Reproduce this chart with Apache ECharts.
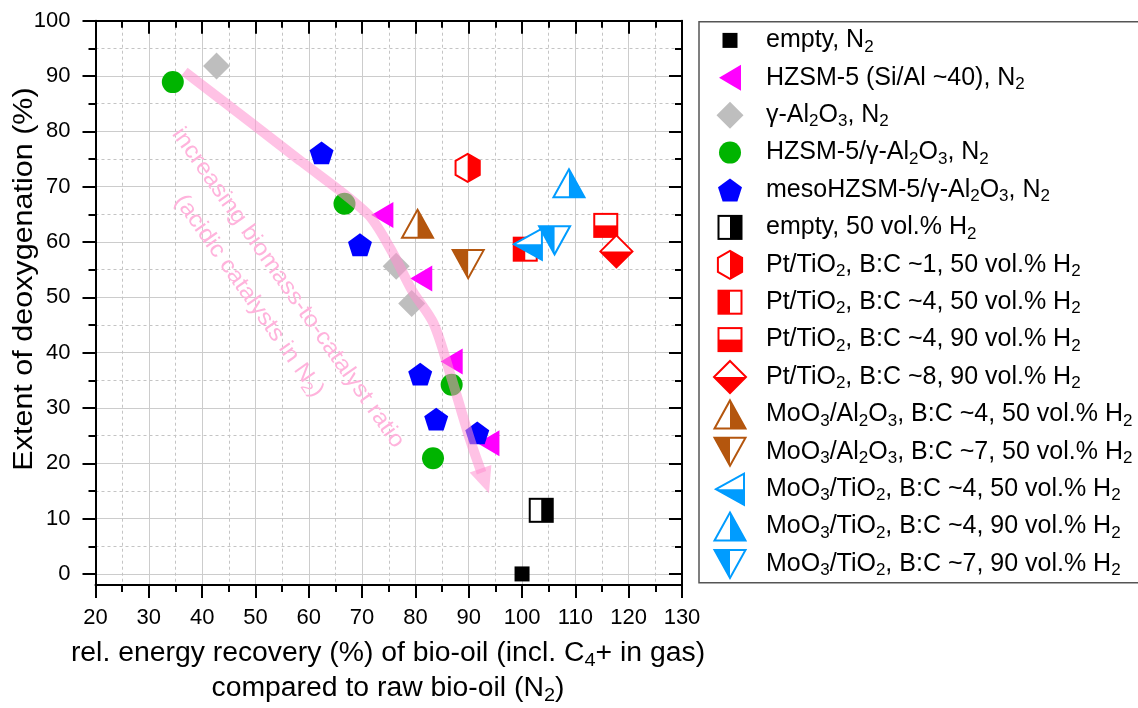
<!DOCTYPE html>
<html>
<head>
<meta charset="utf-8">
<script src="https://cdn.jsdelivr.net/npm/echarts@6/dist/echarts.min.js"></script>
<style>
  html, body { margin: 0; padding: 0; background: #fff; }
  #main { width: 1138px; height: 708px; }
</style>
</head>
<body>
<div id="main"></div>
<script>
// x = rel. energy recovery (%), y = extent of deoxygenation (%)
var emptyN2X = [100], emptyN2Y = [0];
var hzsmX = [73.8, 81.1, 86.8, 93.7], hzsmY = [64.9, 53.4, 38.4, 23.6];
var aluminaX = [42.7, 76.4, 79.3], aluminaY = [91.8, 55.6, 48.9];
var hzsmAlX = [34.5, 66.7, 86.8, 83.3], hzsmAlY = [88.9, 66.9, 34.2, 20.9];
var mesoX = [62.4, 69.6, 80.9, 83.9, 91.6], mesoY = [76.1, 59.5, 36.1, 28.0, 25.5];
var emptyH2X = [103.6], emptyH2Y = [11.5];
var pt1X = [89.8], pt1Y = [73.4];
var pt4aX = [100.6], pt4aY = [58.7];
var pt4bX = [115.7], pt4bY = [63.0];
var pt8X = [117.7], pt8Y = [58.3];
var moAl4X = [80.4], moAl4Y = [63.3];
var moAl7X = [89.9], moAl7Y = [56.0];
var moTi4aX = [101.1], moTi4aY = [59.6];
var moTi4bX = [108.8], moTi4bY = [70.6];
var moTi7X = [106.1], moTi7Y = [60.3];

// pink guide arrow
var trendX = [36.7, 58.4, 71.0, 75.3, 79.4, 83.4, 86.6, 90.3, 92.4];
var trendY = [90.8, 74.7, 65.1, 58.8, 51.2, 45.3, 35.9, 24.1, 18.3];
var arrowX = [93.0], arrowY = [16.8];

var yMajor = [0, 10, 20, 30, 40, 50, 60, 70, 80, 90, 100];
var yMinor = [5, 15, 25, 35, 45, 55, 65, 75, 85, 95];

var FONT = 'Liberation Sans, Arial, sans-serif';
var RED = '#ff0000', BROWN = '#b4560e', AZURE = '#009cff';
var PINK_TEXT = '#ffb3dc';

function icon(body) {
  var svg = '<svg xmlns="http://www.w3.org/2000/svg" width="36" height="36" viewBox="0 0 36 36">' + body + '</svg>';
  return 'image://data:image/svg+xml;charset=utf-8,' + encodeURIComponent(svg);
}
function poly(pts, fill, stroke) {
  return '<polygon points="' + pts + '" fill="' + fill + '"' +
    (stroke ? ' stroke="' + stroke + '" stroke-width="2"' : '') + '/>';
}
var SQ = '<rect x="6.5" y="6.5" width="23" height="23" fill="#fff" stroke="COL" stroke-width="2"/>';
var UP = '18,4 33.5,32 2.5,32', UPR = '18,4 33.5,32 18,32';
var DN = '2.5,4 33.5,4 18,32', DNL = '2.5,4 18,4 18,32';

var symbols = {
  emptyN2: icon('<rect x="10.5" y="10.5" width="15" height="15" fill="#000"/>'),
  hzsm: icon(poly('7,18 29,5 29,31', '#ff00ff')),
  alumina: icon(poly('18,4.5 31.5,18 18,31.5 4.5,18', '#bebebe')),
  hzsmAl: icon('<circle cx="18" cy="18" r="11" fill="#00b400"/>'),
  meso: icon(poly('18,6.6 29.98,15.31 25.41,29.39 10.59,29.39 6.02,15.31', '#0000ff')),
  emptyH2: icon(SQ.replace('COL', '#000') + '<rect x="18" y="6.5" width="11.5" height="23" fill="#000"/>'),
  pt1: icon(poly('18,4 30.1,11 30.1,25 18,32 5.9,25 5.9,11', '#fff', RED) + poly('18,4 30.1,11 30.1,25 18,32', RED)),
  pt4a: icon(SQ.replace('COL', RED) + '<rect x="6.5" y="6.5" width="11.5" height="23" fill="' + RED + '"/>'),
  pt4b: icon(SQ.replace('COL', RED) + '<rect x="6.5" y="18" width="23" height="11.5" fill="' + RED + '"/>'),
  pt8: icon(poly('18,2 34,18 18,34 2,18', '#fff', RED) + poly('2,18 34,18 18,34', RED)),
  moAl4: icon(poly(UP, '#fff', BROWN) + poly(UPR, BROWN)),
  moAl7: icon(poly(DN, '#fff', BROWN) + poly(DNL, BROWN)),
  moTi4a: icon(poly('4,18 32,2.5 32,33.5', '#fff', AZURE) + poly('4,18 32,18 32,33.5', AZURE)),
  moTi4b: icon(poly(UP, '#fff', AZURE) + poly(UPR, AZURE)),
  moTi7: icon(poly(DN, '#fff', AZURE) + poly(DNL, AZURE))
};

function pairs(xs, ys) {
  return xs.map(function (x, i) { return [x, ys[i]]; });
}
function scatter(name, xs, ys, sym) {
  return {
    type: 'scatter', name: name, symbol: sym, symbolSize: 36,
    itemStyle: { opacity: 1 },
    data: pairs(xs, ys), z: 3, silent: true
  };
}

var series = [
  scatter('empty, N_2', emptyN2X, emptyN2Y, symbols.emptyN2),
  scatter('HZSM-5 (Si/Al ~40), N_2', hzsmX, hzsmY, symbols.hzsm),
  scatter('γ-Al_2O_3, N_2', aluminaX, aluminaY, symbols.alumina),
  scatter('HZSM-5/γ-Al_2O_3, N_2', hzsmAlX, hzsmAlY, symbols.hzsmAl),
  scatter('mesoHZSM-5/γ-Al_2O_3, N_2', mesoX, mesoY, symbols.meso),
  scatter('empty, 50 vol.% H_2', emptyH2X, emptyH2Y, symbols.emptyH2),
  scatter('Pt/TiO_2, B:C ~1, 50 vol.% H_2', pt1X, pt1Y, symbols.pt1),
  scatter('Pt/TiO_2, B:C ~4, 50 vol.% H_2', pt4aX, pt4aY, symbols.pt4a),
  scatter('Pt/TiO_2, B:C ~4, 90 vol.% H_2', pt4bX, pt4bY, symbols.pt4b),
  scatter('Pt/TiO_2, B:C ~8, 90 vol.% H_2', pt8X, pt8Y, symbols.pt8),
  scatter('MoO_3/Al_2O_3, B:C ~4, 50 vol.% H_2', moAl4X, moAl4Y, symbols.moAl4),
  scatter('MoO_3/Al_2O_3, B:C ~7, 50 vol.% H_2', moAl7X, moAl7Y, symbols.moAl7),
  scatter('MoO_3/TiO_2, B:C ~4, 50 vol.% H_2', moTi4aX, moTi4aY, symbols.moTi4a),
  scatter('MoO_3/TiO_2, B:C ~4, 90 vol.% H_2', moTi4bX, moTi4bY, symbols.moTi4b),
  scatter('MoO_3/TiO_2, B:C ~7, 90 vol.% H_2', moTi7X, moTi7Y, symbols.moTi7)
];
var legendNames = series.map(function (s) { return s.name; });

series.push({
  type: 'line', name: 'trend', data: pairs(trendX, trendY), smooth: 0.3,
  symbol: 'none', z: 5, silent: true,
  lineStyle: { width: 10, color: '#ff8fcf', opacity: 0.55, cap: 'butt' }
});
series.push({
  type: 'scatter', name: 'trendHead', data: pairs(arrowX, arrowY), z: 5, silent: true,
  symbol: 'triangle', symbolSize: [23, 26], symbolRotate: 199,
  itemStyle: { color: '#ff8fcf', opacity: 0.55 }
});

var subStyle = function (size, col) {
  col = col || '#000';
  return { s: { fontSize: size, fontFamily: FONT, color: col, fill: col, verticalAlign: 'bottom', lineHeight: size - 2 } };
};

var gridLine = { show: true, lineStyle: { color: '#cccccc', width: 1 } };
var dashLine = { show: true, lineStyle: { color: '#c4c4c4', width: 1, type: [3, 3] } };
var blackLine = { show: true, onZero: false, lineStyle: { color: '#000', width: 2 } };

var chart = echarts.init(document.getElementById('main'), null, { renderer: 'canvas' });
chart.setOption({
  animation: false,
  backgroundColor: '#fff',
  textStyle: { fontFamily: FONT },
  grid: { left: 95.5, right: 456, top: 20.7, bottom: 123, outerBoundsMode: 'none' },
  xAxis: [{
    type: 'value', position: 'bottom', min: 20, max: 130, interval: 10,
    axisLine: blackLine,
    axisTick: { show: true, inside: false, length: 13, lineStyle: { color: '#000', width: 2 } },
    minorTick: { show: true, splitNumber: 2, length: 7, lineStyle: { color: '#000', width: 2 } },
    axisLabel: { fontSize: 22, color: '#000', margin: 22, fontFamily: FONT },
    splitLine: gridLine,
    minorSplitLine: dashLine
  }, {
    type: 'value', position: 'top', min: 20, max: 130, interval: 10,
    axisLine: blackLine,
    axisTick: { show: true, inside: true, length: 13, lineStyle: { color: '#000', width: 2 } },
    minorTick: { show: true, splitNumber: 2, length: 7, lineStyle: { color: '#000', width: 2 } },
    axisLabel: { show: false },
    splitLine: { show: false }
  }],
  yAxis: [{
    type: 'value', position: 'left', min: -2, max: 100,
    axisLine: blackLine,
    axisTick: { show: true, inside: false, length: 13, customValues: yMajor, lineStyle: { color: '#000', width: 2 } },
    axisLabel: { fontSize: 22, color: '#000', margin: 25, customValues: yMajor, fontFamily: FONT },
    splitLine: gridLine
  }, {
    type: 'value', position: 'left', min: -2, max: 100,
    axisLine: { show: false },
    axisTick: { show: true, inside: false, length: 7, customValues: yMinor, lineStyle: { color: '#000', width: 2 } },
    axisLabel: { show: false },
    splitLine: dashLine
  }, {
    type: 'value', position: 'right', min: -2, max: 100,
    axisLine: blackLine,
    axisTick: { show: true, inside: true, length: 13, customValues: yMajor, lineStyle: { color: '#000', width: 2 } },
    axisLabel: { show: false },
    splitLine: { show: false }
  }, {
    type: 'value', position: 'right', min: -2, max: 100,
    axisLine: { show: false },
    axisTick: { show: true, inside: true, length: 7, customValues: yMinor, lineStyle: { color: '#000', width: 2 } },
    axisLabel: { show: false },
    splitLine: { show: false }
  }],
  legend: {
    orient: 'vertical', left: 699, top: 21.7,
    padding: [0.7, 30, 0.7, 0],
    itemWidth: 62, itemHeight: 36, itemGap: 1.4,
    borderColor: '#555', borderWidth: 1.5,
    selectedMode: false,
    data: legendNames,
    formatter: function (name) { return name.replace(/_(\d)/g, '{s|$1}'); },
    textStyle: { fontSize: 25, color: '#000', fontFamily: FONT, lineHeight: 30, rich: subStyle(17) }
  },
  graphic: [{
    type: 'text', x: 25, y: 279, rotation: Math.PI / 2, scaleX: 1.13, silent: true,
    style: { text: 'Extent of deoxygenation (%)', fontSize: 27, fontFamily: FONT, fill: '#000', align: 'center', verticalAlign: 'middle' }
  }, {
    type: 'text', x: 388, y: 654, scaleX: 1.05, silent: true,
    style: {
      text: 'rel. energy recovery (%) of bio-oil (incl. C{s|4}+ in gas)', fontSize: 27, fontFamily: FONT, fill: '#000',
      align: 'center', verticalAlign: 'middle', lineHeight: 32, rich: subStyle(19)
    }
  }, {
    type: 'text', x: 388, y: 689, scaleX: 1.05, silent: true,
    style: {
      text: 'compared to raw bio-oil (N{s|2})', fontSize: 27, fontFamily: FONT, fill: '#000',
      align: 'center', verticalAlign: 'middle', lineHeight: 32, rich: subStyle(19)
    }
  }, {
    type: 'text', x: 288, y: 288, rotation: -0.956, scaleX: 1.07, silent: true, z: 10,
    style: { text: 'increasing biomass-to-catalyst ratio', fontSize: 23, fontFamily: FONT, fill: PINK_TEXT, align: 'center', verticalAlign: 'middle' }
  }, {
    type: 'text', x: 249, y: 296, rotation: -0.956, scaleX: 1.07, silent: true, z: 10,
    style: {
      text: '(acidic catalysts in N{s|2})', fontSize: 23, fontFamily: FONT, fill: PINK_TEXT,
      align: 'center', verticalAlign: 'middle', lineHeight: 28, rich: subStyle(16, PINK_TEXT)
    }
  }],
  series: series
});
</script>
</body>
</html>
